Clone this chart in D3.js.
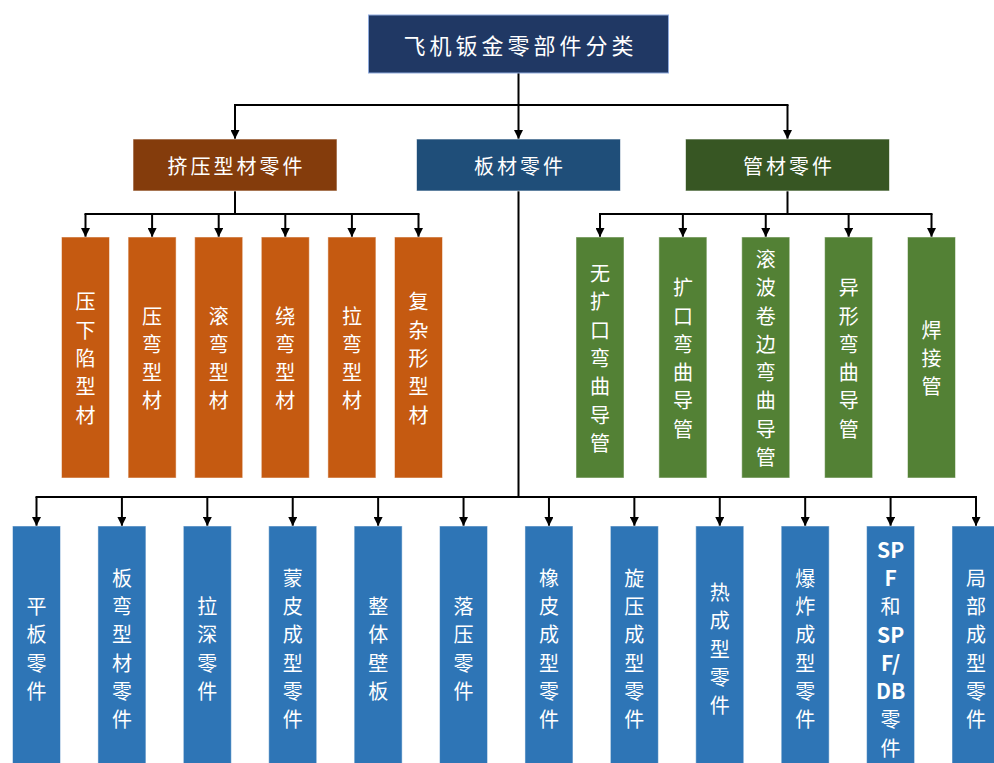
<!DOCTYPE html>
<html>
<head>
<meta charset="utf-8">
<script src="https://cdn.jsdelivr.net/npm/d3@7"></script>
<style>
  body { margin: 0; background: #fff; }
  svg { display: block; }
</style>
</head>
<body>
<div id="chart"></div>
<script>
// tree content
const rootLabel = "飞机钣金零部件分类";
const groupLabels = ["挤压型材零件", "板材零件", "管材零件"];
const extrusionParts = ["压下陷型材", "压弯型材", "滚弯型材", "绕弯型材", "拉弯型材", "复杂形型材"];
const tubeParts = ["无扩口弯曲导管", "扩口弯曲导管", "滚波卷边弯曲导管", "异形弯曲导管", "焊接管"];
const sheetParts = ["平板零件", "板弯型材零件", "拉深零件", "蒙皮成型零件", "整体壁板", "落压零件",
  "橡皮成型零件", "旋压成型零件", "热成型零件", "爆炸成型零件", "SPF和SPF/DB零件", "局部成型零件"];

const W = 994, H = 763;
const font = "'Noto Sans CJK SC', 'Noto Sans', sans-serif";

const svg = d3.select("#chart").append("svg")
  .attr("width", W)
  .attr("height", H);

svg.append("defs").append("marker")
  .attr("id", "arrow")
  .attr("viewBox", "0 0 10 10")
  .attr("refX", 10).attr("refY", 5)
  .attr("markerWidth", 4.5).attr("markerHeight", 4.5)
  .attr("orient", "auto")
  .append("path")
  .attr("d", "M0,0L10,5L0,10Z")
  .attr("fill", "#000");

// colours per level
const rootColor = "#203864";
const groupColors = ["#843C0C", "#1F4E79", "#375623"];
const leafColors = { extrusion: "#C55A11", tube: "#538135", sheet: "#2E75B6" };

// horizontal scales for each row
const xGroup = d3.scaleOrdinal().domain(groupLabels).range([235, 518.5, 787.5]);
const xExtr = d3.scalePoint().domain(extrusionParts).range([85.5, 418.5]);
const xTube = d3.scalePoint().domain(tubeParts).range([600, 931.5]);
const xSheet = d3.scalePoint().domain(sheetParts).range([36.5, 976]);

const rootBox = { cx: 518.5, y: 15, w: 300, h: 58 };
const groupBox = { y: 139, w: 204, h: 52 };
const leafW = 48;
const upperLeaf = { y: 237, h: 241, bus: 214 };
const lowerLeaf = { y: 526, h: 244, bus: 497 };

const lines = svg.append("g")
  .attr("stroke", "#000")
  .attr("stroke-width", 2)
  .attr("fill", "none");

function elbow(x0, y0, xs, busY, yEnd) {
  lines.append("line").attr("x1", x0).attr("y1", y0).attr("x2", x0).attr("y2", busY);
  lines.append("line")
    .attr("x1", d3.min(xs) - 1).attr("y1", busY)
    .attr("x2", d3.max(xs) + 1).attr("y2", busY);
  xs.forEach(x => {
    lines.append("line")
      .attr("x1", x).attr("y1", busY).attr("x2", x).attr("y2", yEnd)
      .attr("marker-end", "url(#arrow)");
  });
}

// root -> groups
elbow(rootBox.cx, rootBox.y + rootBox.h, groupLabels.map(xGroup), 105, groupBox.y);
// extrusion -> leaves
elbow(xGroup(groupLabels[0]), groupBox.y + groupBox.h, extrusionParts.map(xExtr), upperLeaf.bus, upperLeaf.y);
// tube -> leaves
elbow(xGroup(groupLabels[2]), groupBox.y + groupBox.h, tubeParts.map(xTube), upperLeaf.bus, upperLeaf.y);
// sheet -> leaves
elbow(xGroup(groupLabels[1]), groupBox.y + groupBox.h, sheetParts.map(xSheet), lowerLeaf.bus, lowerLeaf.y);

// root box
svg.append("rect")
  .attr("x", rootBox.cx - rootBox.w / 2).attr("y", rootBox.y)
  .attr("width", rootBox.w).attr("height", rootBox.h)
  .attr("fill", rootColor)
  .attr("stroke", "#8FAADC").attr("stroke-width", 1);
svg.append("text")
  .attr("x", rootBox.cx + 2).attr("y", rootBox.y + rootBox.h / 2)
  .attr("text-anchor", "middle").attr("dominant-baseline", "central")
  .attr("fill", "#fff").attr("font-family", font).attr("font-size", 22)
  .attr("letter-spacing", 4)
  .text(rootLabel);

// group boxes
const groups = svg.append("g").selectAll("g")
  .data(groupLabels)
  .join("g")
  .attr("transform", d => `translate(${xGroup(d) - groupBox.w / 2},${groupBox.y})`);
groups.append("rect")
  .attr("width", groupBox.w).attr("height", groupBox.h)
  .attr("fill", (d, i) => groupColors[i])
  .attr("stroke", "rgba(255,255,255,0.6)").attr("stroke-width", 1);
groups.append("text")
  .attr("x", groupBox.w / 2 + 1.5).attr("y", groupBox.h / 2)
  .attr("text-anchor", "middle").attr("dominant-baseline", "central")
  .attr("fill", "#fff").attr("font-family", font).attr("font-size", 20)
  .attr("letter-spacing", 3)
  .text(d => d);

// split a label into vertical lines, latin runs kept in pairs
function tokens(label) {
  const out = [];
  let run = "";
  for (const ch of label) {
    if (/[\x00-\x7F]/.test(ch)) {
      run += ch;
      if (run.length === 2) { out.push(run); run = ""; }
    } else {
      if (run) { out.push(run); run = ""; }
      out.push(ch);
    }
  }
  if (run) out.push(run);
  return out;
}

function drawLeaves(data, x, box, color) {
  const g = svg.append("g").selectAll("g")
    .data(data)
    .join("g")
    .attr("transform", d => `translate(${x(d) - leafW / 2},${box.y})`);
  g.append("rect")
    .attr("width", leafW).attr("height", box.h)
    .attr("fill", color)
    .attr("stroke", "rgba(255,255,255,0.5)").attr("stroke-width", 1);
  const lh = 28.3;
  g.each(function(d) {
    const t = tokens(d);
    const y0 = box.h / 2 - (t.length - 1) * lh / 2;
    d3.select(this).selectAll("text")
      .data(t)
      .join("text")
      .attr("x", leafW / 2)
      .attr("y", (s, i) => y0 + i * lh)
      .attr("text-anchor", "middle").attr("dominant-baseline", "central")
      .attr("fill", "#fff").attr("font-family", font)
      .attr("font-size", s => /[\x00-\x7F]/.test(s) ? 21 : 20)
      .attr("font-weight", s => /[\x00-\x7F]/.test(s) ? "bold" : null)
      .text(s => s);
  });
}

drawLeaves(extrusionParts, xExtr, upperLeaf, leafColors.extrusion);
drawLeaves(tubeParts, xTube, upperLeaf, leafColors.tube);
drawLeaves(sheetParts, xSheet, lowerLeaf, leafColors.sheet);
</script>
</body>
</html>
